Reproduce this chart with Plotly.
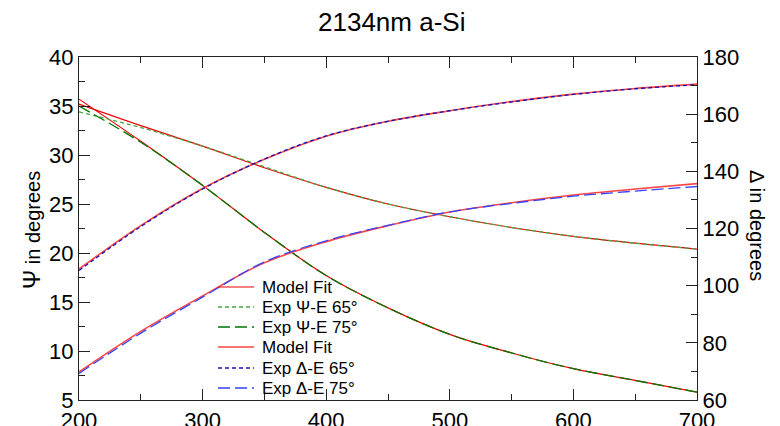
import plotly.graph_objects as go

# wavelength grid (nm)
wl = [200, 250, 300, 350, 400, 450, 500, 550, 600, 650, 700]

# Psi (left axis, degrees)
psi65_model = [35.2, 33.0, 30.9, 28.7, 26.7, 25.0, 23.7, 22.6, 21.7, 21.0, 20.4]
psi65_exp   = [34.4, 32.8, 30.9, 28.8, 26.7, 25.0, 23.7, 22.6, 21.7, 21.0, 20.4]
psi75_model = [35.7, 31.4, 26.9, 22.1, 17.7, 14.4, 11.7, 9.8, 8.2, 7.0, 5.8]
psi75_exp   = [35.0, 31.3, 26.9, 22.1, 17.7, 14.4, 11.7, 9.8, 8.2, 7.0, 5.8]

# Delta (right axis, degrees)
del65_model = [105.8, 121.0, 134.0, 144.2, 152.3, 157.5, 161.2, 164.4, 167.0, 169.0, 170.5]
del65_exp   = [105.3, 120.7, 133.8, 144.3, 152.4, 157.5, 161.2, 164.3, 166.9, 168.9, 170.3]
del75_model = [69.8, 84.0, 96.4, 108.0, 115.4, 121.0, 125.8, 129.0, 131.7, 133.8, 135.7]
del75_exp   = [69.3, 83.4, 96.0, 108.3, 115.7, 121.1, 125.8, 128.8, 131.3, 133.1, 134.7]

title_text = "2134nm a-Si"
x_ticks = [200, 300, 400, 500, 600, 700]

FONT = "Liberation Sans, Arial, sans-serif"

# plot-area geometry in pixels (for converting annotation positions)
L, R, T, B = 79, 697, 57, 400
W, H = R - L, B - T

def px(x):
    return (x - L) / W

def py(y):
    return (B - y) / H

fig = go.Figure()

# legend entries: (name, color, dash, width)
legend_items = [
    ("Model Fit", "#ee0000", "solid", 1.2),
    ("Exp Ψ-E 65°", "#44aa44", "4px,3px", 1.3),
    ("Exp Ψ-E 75°", "#007700", "12px,5px", 1.3),
    ("Model Fit", "#ff4444", "solid", 1.6),
    ("Exp Δ-E 65°", "#1111bb", "4px,3px", 1.3),
    ("Exp Δ-E 75°", "#3344ff", "12px,5px", 1.3),
]

def add(x, y, item, axis):
    name, color, dash, width = legend_items[item]
    fig.add_trace(go.Scatter(
        x=x, y=y, name=name, mode="lines", line_shape="spline",
        line=dict(color=color, dash=dash, width=width),
        yaxis=axis, showlegend=False))

# Psi
add(wl, psi65_model, 0, "y")
add(wl, psi75_model, 0, "y")
add(wl, psi65_exp, 1, "y")
add(wl, psi75_exp, 2, "y")
# Delta
add(wl, del65_model, 3, "y2")
add(wl, del75_model, 3, "y2")
add(wl, del65_exp, 4, "y2")
add(wl, del75_exp, 5, "y2")

axis_common = dict(
    showgrid=False, zeroline=False, showline=True, linecolor="#222222", linewidth=1.3,
    ticks="inside", ticklen=11, tickwidth=1.2, tickcolor="#222222", automargin=False,
    tickfont=dict(family=FONT, size=22, color="black"),
)

fig.update_layout(
    width=780, height=426,
    margin=dict(l=L, r=780 - R, t=T, b=426 - B),
    paper_bgcolor="white", plot_bgcolor="white",
    font=dict(family=FONT, color="black"),
    xaxis=dict(range=[200, 700], tickvals=x_ticks, mirror="ticks",
               minor=dict(ticks="inside", ticklen=6, dtick=50, tickwidth=1.2, tickcolor="#222222"),
               ticklabelstandoff=0, **axis_common),
    yaxis=dict(range=[5, 40], dtick=5, tick0=5,
               minor=dict(ticks="inside", ticklen=6, dtick=2.5, tickwidth=1.2, tickcolor="#222222"),
               **axis_common),
    yaxis2=dict(range=[60, 180], dtick=20, tick0=60, overlaying="y", side="right",
                minor=dict(ticks="inside", ticklen=6, dtick=10, tickwidth=1.2, tickcolor="#222222"),
                **axis_common),
    showlegend=False,
)

# manual legend (tight rows as in the reference)
row_y = [287, 307, 327, 347, 368, 388]
for (name, color, dash, width), ry in zip(legend_items, row_y):
    fig.add_shape(type="line", xref="paper", yref="paper",
                  x0=px(218), x1=px(254), y0=py(ry), y1=py(ry),
                  line=dict(color=color, dash=dash, width=width))
    fig.add_annotation(text=name, xref="paper", yref="paper",
                       x=px(260), y=py(ry), xanchor="left", yanchor="middle",
                       showarrow=False, font=dict(family=FONT, size=17, color="black"))

fig.add_annotation(text=title_text, xref="paper", yref="paper",
                   x=0.505, y=py(22), xanchor="center", yanchor="middle",
                   showarrow=False, font=dict(family=FONT, size=26, color="black"))
fig.add_annotation(text="<span style='font-size:23px'>Ψ</span> in degrees", xref="paper", yref="paper",
                   x=px(32), y=py(230), xanchor="center", yanchor="middle",
                   textangle=-90, showarrow=False, font=dict(family=FONT, size=20, color="black"))
fig.add_annotation(text="Δ in degrees", xref="paper", yref="paper",
                   x=px(757), y=py(225), xanchor="center", yanchor="middle",
                   textangle=90, showarrow=False, font=dict(family=FONT, size=20, color="black"))

fig.write_html("out.html")
